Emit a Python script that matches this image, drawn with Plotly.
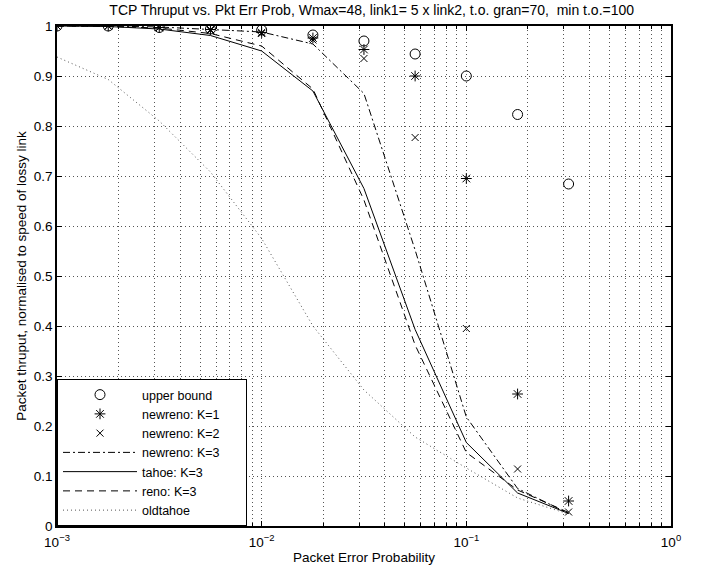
import plotly.graph_objects as go

# Packet error probabilities (quarter-decade steps from 1e-3 to ~0.32)
pkt_err = [0.001, 0.00178, 0.00316, 0.00562, 0.01, 0.0178, 0.0316, 0.0562, 0.1, 0.178, 0.316]

# Normalised throughput for each scheme
upper_bound = [1.0, 1.0, 0.997, 0.994, 0.992, 0.982, 0.970, 0.944, 0.900, 0.823, 0.684]
newreno_k1 = [1.0, 1.0, 0.997, 0.993, 0.987, 0.976, 0.953, 0.900, 0.695, 0.264, 0.050]
newreno_k2 = [1.0, 1.0, 0.997, 0.991, 0.985, 0.972, 0.935, 0.777, 0.395, 0.114, 0.028]
newreno_k3 = [1.0, 1.0, 0.998, 0.993, 0.988, 0.964, 0.865, 0.552, 0.218, 0.075, 0.025]
tahoe_k3 = [1.0, 0.999, 0.994, 0.981, 0.950, 0.870, 0.675, 0.393, 0.167, 0.066, 0.025]
reno_k3 = [1.0, 0.999, 0.996, 0.985, 0.960, 0.874, 0.652, 0.362, 0.147, 0.072, 0.027]
oldtahoe = [0.938, 0.893, 0.810, 0.708, 0.575, 0.400, 0.272, 0.178, 0.116, 0.056, 0.024]

series_names = ["upper bound", "newreno: K=1", "newreno: K=2", "newreno: K=3",
                "tahoe: K=3", "reno: K=3", "oldtahoe"]

x_ticks = [0.001, 0.01, 0.1, 1]
x_tick_text = ["10<sup>\u22123</sup>", "10<sup>\u22122</sup>", "10<sup>\u22121</sup>", "10<sup>0</sup>"]
x_minor = [m * d for d in (0.001, 0.01, 0.1) for m in range(2, 10)]

FONT = "Liberation Sans, Arial, sans-serif"
TXT = 13.5
LEG_TXT = 12.5
GRID_DASH = "1px,3px"
PAD = "\u00a0" * 6  # trailing space widens the legend box

fig = go.Figure()

fig.add_trace(go.Scatter(x=pkt_err, y=upper_bound, mode="markers", name=series_names[0],
                         marker=dict(symbol="circle-open", size=10, color="black", line=dict(width=1))))
fig.add_trace(go.Scatter(x=pkt_err, y=newreno_k1, mode="markers", name=series_names[1] + PAD,
                         marker=dict(symbol="asterisk-open", size=9, color="black", line=dict(width=1))))
fig.add_trace(go.Scatter(x=pkt_err, y=newreno_k2, mode="markers", name=series_names[2] + PAD,
                         marker=dict(symbol="x-thin-open", size=7, color="black", line=dict(width=1))))
fig.add_trace(go.Scatter(x=pkt_err, y=newreno_k3, mode="lines", name=series_names[3] + PAD,
                         line=dict(color="black", width=1, dash="7px,3px,2px,3px")))
fig.add_trace(go.Scatter(x=pkt_err, y=tahoe_k3, mode="lines", name=series_names[4],
                         line=dict(color="black", width=1)))
fig.add_trace(go.Scatter(x=pkt_err, y=reno_k3, mode="lines", name=series_names[5],
                         line=dict(color="black", width=1, dash="7px,5px")))
fig.add_trace(go.Scatter(x=pkt_err, y=oldtahoe, mode="lines", name=series_names[6],
                         line=dict(color="#555555", width=1, dash="1px,3px")))

axis_common = dict(
    showline=True, linecolor="black", linewidth=1.5, mirror="allticks",
    ticks="inside", ticklen=5, tickcolor="black",
    showgrid=True, gridcolor="#555555", gridwidth=1, griddash=GRID_DASH,
    zeroline=False, tickfont=dict(family=FONT, size=TXT, color="black"),
)

fig.update_xaxes(
    type="log", range=[-3, 0], tickmode="array", tickvals=x_ticks, ticktext=x_tick_text,
    ticklabelstandoff=3,
    title=dict(text="Packet Error Probability", font=dict(family=FONT, size=TXT, color="black"), standoff=4),
    minor=dict(tickmode="array", tickvals=x_minor, ticks="inside", ticklen=3, tickcolor="black",
               showgrid=True, gridcolor="#555555", gridwidth=1, griddash=GRID_DASH),
    **axis_common,
)
fig.update_yaxes(
    range=[0, 1], dtick=0.1, tick0=0,
    title=dict(text="Packet thruput, normalised to speed of lossy link",
               font=dict(family=FONT, size=TXT, color="black"), standoff=4),
    **axis_common,
)

fig.update_layout(
    width=704, height=575,
    margin=dict(l=57, r=33, t=26, b=47),
    paper_bgcolor="white", plot_bgcolor="white",
    font=dict(family=FONT, size=TXT, color="black"),
    title=dict(text="TCP Thruput vs. Pkt Err Prob, Wmax=48, link1= 5 x link2, t.o. gran=70,  min t.o.=100",
               font=dict(family=FONT, size=14, color="black"),
               x=0.528, xanchor="center", y=1 - 10 / 575, yanchor="middle", yref="container"),
    legend=dict(x=0, y=0, xanchor="left", yanchor="bottom", bgcolor="white",
                bordercolor="black", borderwidth=1, font=dict(family=FONT, size=LEG_TXT, color="black"),
                itemwidth=74, tracegroupgap=0),
    showlegend=True,
)

fig.write_html("out.html")
